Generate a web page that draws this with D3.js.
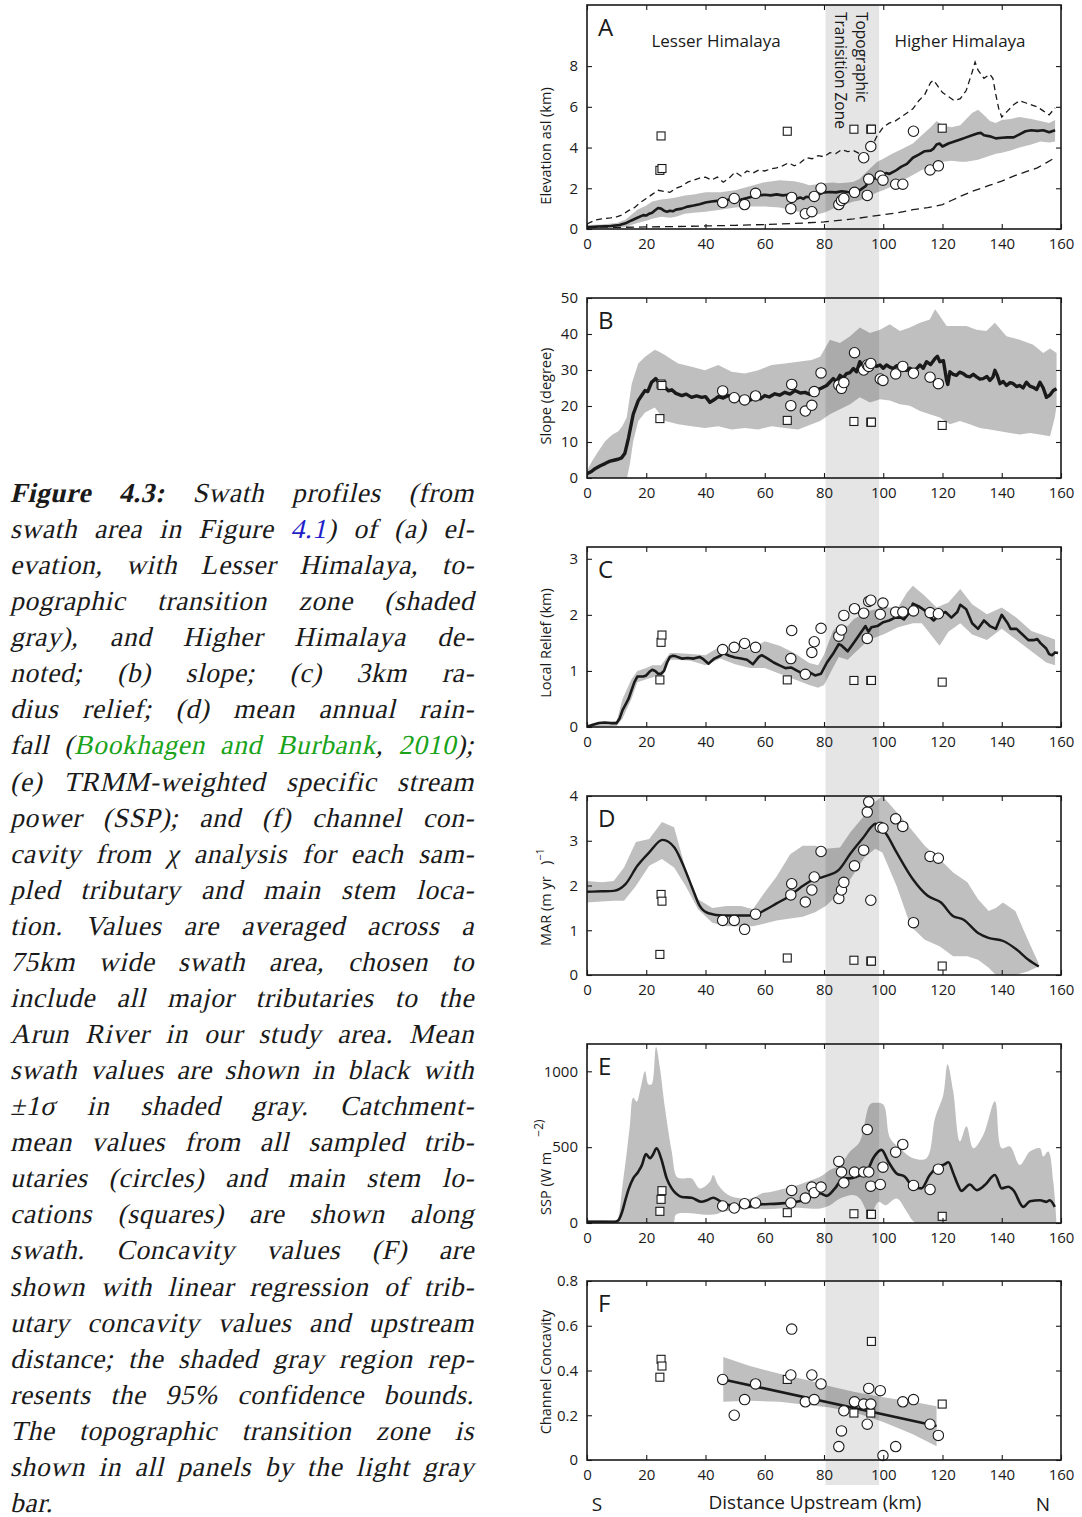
<!DOCTYPE html>
<html>
<head>
<meta charset="utf-8">
<script src="https://cdn.jsdelivr.net/npm/d3@7"></script>
<style>
  body { margin: 0; background: #fff; }
</style>
</head>
<body>
<div id="fig"></div>
<script>
// distancia (km) y valores

const X_TICKS = [0, 20, 40, 60, 80, 100, 120, 140, 160];
const ZONE_KM = [80.5, 98.6];

// tributarios (circulos) y cauce principal (cuadrados)
const tribKm = [45.8, 49.7, 53.2, 56.9, 68.8, 69.1, 73.7, 75.9, 76.7, 79.0, 85.0, 85.9, 86.7, 90.3, 93.4, 94.6, 95.1, 95.8, 99.0, 99.9, 104.2, 106.6, 110.2, 115.8, 118.6];
const stemKm = [24.6, 25.0, 25.3, 67.6, 90.1, 95.8, 96.0, 119.9];

// A - elevacion
const elevMean = [[0,0.08],[4,0.12],[8,0.15],[11,0.2],[13,0.28],[15,0.42],[17,0.55],[19,0.68],[20,0.66],[21,0.75],[22,0.8],[23,0.92],[24,1.03],[25,1.0],[26,0.9],[27,0.85],[28,0.9],[29,0.87],[30,0.95],[32,1.0],[34,1.1],[36,1.15],[38,1.22],[40,1.3],[42,1.35],[44,1.38],[46,1.38],[48,1.45],[50,1.42],[52,1.45],[54,1.52],[56,1.6],[57,1.7],[58,1.65],[60,1.68],[62,1.65],[64,1.7],[66,1.65],[68,1.68],[70,1.62],[71,1.5],[72,1.55],[73,1.48],[74,1.58],[76,1.55],[78,1.68],[80,1.8],[82,1.82],[84,1.8],[86,1.85],[88,1.82],[90,1.8],[91,1.75],[92,1.9],[94,2.1],[95,2.3],[96,2.45],[98,2.5],[99,2.7],[100,2.65],[101,2.75],[102,2.7],[104,2.85],[106,3.05],[108,3.2],[110,3.5],[112,3.65],[114,3.82],[116,3.85],[117,3.95],[118,4.15],[119,4.2],[120,4.05],[122,4.2],[124,4.3],[126,4.4],[128,4.5],[130,4.6],[132,4.7],[133,4.72],[134,4.6],[136,4.55],[138,4.45],[140,4.48],[142,4.5],[144,4.5],[146,4.65],[148,4.8],[150,4.85],[152,4.82],[154,4.85],[156,4.75],[158,4.85]];
const elevHi = [[0,0.2],[5,0.22],[10,0.3],[13,0.45],[15,0.7],[17,0.95],[20,1.15],[22,1.35],[25,1.45],[28,1.5],[30,1.55],[33,1.65],[36,1.7],[40,1.8],[45,1.8],[50,1.9],[55,2.1],[60,2.3],[65,2.4],[70,2.35],[73,2.25],[75,2.15],[78,2.2],[80,2.25],[83,2.28],[85,2.25],[88,2.28],[90,2.32],[92,2.45],[95,2.9],[98,3.3],[100,3.45],[103,3.7],[106,3.9],[110,4.2],[113,4.6],[116,5.0],[118,5.3],[120,5.1],[123,5.0],[126,5.1],[128,5.4],[130,5.7],[132,5.85],[134,5.6],[136,5.3],[138,5.2],[140,5.35],[143,5.4],[146,5.5],[150,5.4],[153,5.3],[156,5.2],[158,5.35]];
const elevLo = [[0,0.0],[5,0.02],[10,0.05],[13,0.1],[15,0.2],[17,0.3],[20,0.4],[22,0.5],[25,0.6],[28,0.55],[30,0.6],[33,0.75],[36,0.8],[40,0.85],[45,0.95],[50,1.05],[55,1.1],[60,1.1],[65,1.05],[70,0.9],[73,0.8],[75,0.72],[78,0.72],[80,0.8],[83,1.0],[85,1.1],[88,1.25],[90,1.35],[92,1.4],[95,1.6],[98,1.8],[100,1.9],[103,2.1],[106,2.35],[110,2.65],[113,2.9],[116,3.05],[118,3.2],[120,3.3],[123,3.35],[126,3.3],[128,3.3],[130,3.35],[132,3.4],[134,3.5],[136,3.6],[138,3.7],[140,3.75],[143,3.85],[146,4.0],[150,4.15],[153,4.3],[156,4.25],[158,4.3]];
const elevMax = [[0,0.25],[3,0.45],[5,0.5],[8,0.55],[10,0.6],[12,0.7],[14,0.9],[16,1.05],[18,1.3],[20,1.5],[22,1.7],[24,1.9],[26,1.85],[28,1.8],[30,2.0],[32,2.1],[34,2.3],[36,2.4],[38,2.5],[40,2.55],[42,2.4],[44,2.55],[46,2.3],[48,2.5],[50,2.8],[52,2.6],[54,2.85],[56,2.75],[58,2.9],[60,2.85],[62,2.95],[64,3.0],[66,3.1],[68,3.25],[70,3.1],[72,3.25],[74,3.5],[76,3.45],[78,3.6],[80,3.55],[82,3.75],[84,3.7],[86,3.9],[88,3.8],[90,3.85],[92,3.7],[94,3.6],[96,4.0],[98,4.6],[100,5.0],[102,5.2],[104,5.3],[106,5.5],[108,5.7],[110,5.9],[112,6.3],[114,6.6],[116,7.2],[117,7.3],[118,7.1],[120,6.7],[122,6.5],[124,6.3],[126,6.4],[128,6.8],[130,7.7],[131,8.2],[132,7.8],[134,7.4],[136,7.6],[137,7.4],[138,6.6],[139,5.9],[140,5.5],[142,5.8],[144,6.1],[146,6.3],[148,6.2],[150,6.1],[152,6.0],[154,5.8],[156,5.6],[158,5.95]];
const elevMin = [[0,0.12],[10,0.08],[20,0.1],[30,0.12],[40,0.15],[50,0.18],[60,0.22],[70,0.27],[80,0.35],[85,0.42],[90,0.5],[95,0.6],[100,0.7],[105,0.8],[110,0.95],[115,1.05],[120,1.2],[123,1.4],[126,1.6],[130,1.85],[133,2.0],[136,2.15],[140,2.35],[144,2.6],[148,2.8],[152,3.0],[155,3.25],[158,3.5]];
const elevTrib = [1.3, 1.5, 1.2, 1.75, 1.0, 1.55, 0.75, 0.85, 1.6, 2.0, 1.2, 1.4, 1.5, 1.8, 3.5, 1.65, 2.45, 4.05, 2.6, 2.4, 2.2, 2.2, 4.8, 2.9, 3.1];
const elevStem = [2.88, 4.57, 2.97, 4.8, 4.9, 4.9, 4.9, 4.95];

// B - pendiente
const slopeMean = [[0,1.2],[1.5,1.8],[2.7,2.6],[4.5,3.4],[6.1,4.0],[7.5,4.6],[9.4,5.0],[10.5,5.2],[11.7,5.6],[12.8,6.9],[14,11.1],[15.6,17.7],[17.3,21.5],[18.5,23],[19.6,24.3],[20.5,24],[21.8,26.6],[23.2,27.6],[24,26.8],[24.6,26.2],[25.5,25],[26.3,25.2],[27.5,24.2],[28.6,24.5],[30,23.5],[32,22.9],[33.5,23.3],[35.3,22.4],[37,22.8],[38.7,22.4],[40,22.6],[41.5,21],[43,21.8],[44.3,22.6],[46,22.2],[47.7,22.9],[49.5,22.4],[51.1,21.9],[53.3,21],[55,21.6],[56.7,22.4],[58.5,22],[60,22.9],[61.5,22.5],[63.4,23.4],[65,23],[66.8,23.8],[68.5,23.3],[70.2,24.3],[72,23.6],[73.6,23.8],[75.3,23.2],[77,24.3],[78.7,24.8],[80.9,25.7],[83.1,27.6],[84.2,26.8],[85.4,28.5],[86.5,27.8],[87.6,29],[88.8,29.3],[89.9,30.4],[91,29.5],[92.1,32.3],[93.2,31],[94.4,31.4],[95.5,30.8],[96.6,31.8],[97.7,31],[98.9,31.4],[100,30.5],[101.1,31.4],[102.2,30.8],[103.4,30.4],[104.5,31.2],[105.6,30.9],[106.8,30.2],[107.9,29.9],[109,30.5],[110.1,29.9],[111.2,30.3],[112.4,31.4],[113.5,30.5],[114.6,32.3],[116,31.5],[117.5,33.2],[118.3,33.8],[119.1,32.3],[120.3,32.6],[121.4,27.1],[121.8,26],[122.5,29.5],[123.6,28.8],[124.7,28.5],[125.8,29.4],[127,29],[128.1,28.3],[129.2,28.1],[130.4,28.8],[131.5,28.1],[132.6,27.5],[133.7,27.6],[135,28.2],[136,27.1],[137,28],[137.7,29.9],[138.5,28.5],[139.4,26.2],[140.5,26.8],[141.6,25.7],[142.8,26.5],[143.9,26.2],[145,25.4],[146.1,25.7],[147.2,25],[148.3,26.6],[149.5,25.5],[150.6,25.2],[151.8,24.6],[152.9,26.6],[154,25],[155.1,22.4],[156.2,23],[157.4,24.3],[158.5,24.8]];
const slopeHi = [[0,2],[1.6,4.5],[3.5,7],[6.1,10.2],[8.5,12],[10.6,13],[12,14.5],[13.4,16.8],[15.1,26.2],[17.3,31.8],[19.6,33.7],[22.9,35.6],[24.5,35],[26.3,34.2],[28.5,33],[30.8,31.8],[35.3,30.9],[39.8,29.9],[44.3,31.4],[48.8,29.5],[53.3,29],[57.8,29.9],[62.3,31.4],[66.8,31.8],[71.3,32.3],[75.8,32.8],[78.7,33.7],[82,38.4],[85.4,37.5],[88.8,39.4],[92.1,41.8],[95.5,40.3],[98.9,41.2],[102.2,42.7],[105.6,40.8],[109,41.8],[112.4,43.1],[115.7,44],[117.5,46.9],[119.1,45],[121.4,42.2],[124.7,42.2],[128.1,42.2],[131.5,41.2],[134.8,40.8],[137.7,43.1],[141.6,39.4],[146.1,38.4],[150.6,37],[154,34.7],[156.3,36],[158.5,34.7]];
const slopeLo = [[0,0],[13.5,0],[14.5,4],[15.6,10.2],[17.3,15.8],[19.6,18.2],[22.9,19.6],[26.3,15.8],[30.8,14.9],[35.3,14.4],[39.8,13.9],[44.3,14.4],[48.8,13.5],[53.3,13.9],[57.8,13.5],[62.3,14.4],[66.8,13.9],[71.3,13.5],[75.8,14.9],[78.7,15.8],[82,17.7],[85.4,19.1],[88.8,20.5],[92.1,22.4],[95.5,21],[98.9,21.9],[102.2,21.5],[105.6,20.5],[109,20.1],[112.4,18.6],[115.7,17.7],[119.1,16.8],[122.5,14.9],[125.9,15.8],[129.2,14.9],[132.6,13.9],[136,13.5],[139.4,13],[142.8,12.5],[146.1,12.1],[149.5,12.5],[152.9,12.1],[156.3,11.6],[157.9,16.8],[158.5,20]];
const slopeTrib = [24.2, 22.3, 21.7, 22.8, 20.1, 26.0, 18.6, 20.2, 24.0, 29.2, 25.8, 24.9, 26.5, 34.8, 30.0, 31.4, 31.0, 31.8, 27.5, 27.1, 28.9, 31.0, 29.1, 28.0, 26.2];
const slopeStem = [16.5, 26.1, 25.7, 16.0, 15.7, 15.5, 15.5, 14.6];

// C - relieve local
const reliefMean = [[0,0],[2,0.04],[4,0.07],[6,0.08],[8,0.07],[10,0.07],[11,0.15],[12,0.3],[13,0.4],[14,0.5],[15,0.65],[16,0.8],[17,0.9],[19,0.9],[20,0.92],[21,0.98],[22,1.02],[23,1.0],[24,0.95],[25,0.95],[26,1.0],[27,1.15],[28,1.25],[29,1.27],[30,1.26],[32,1.22],[34,1.23],[36,1.22],[38,1.25],[39,1.22],[41,1.13],[43,1.22],[45,1.27],[46,1.32],[48,1.27],[50,1.24],[52,1.22],[54,1.2],[56,1.12],[58,1.25],[59,1.28],[61,1.22],[63,1.15],[65,1.1],[67,1.05],[69,1.06],[71,1.0],[73,0.95],[75,0.98],[77,0.92],[79,0.95],[81,1.15],[83,1.3],[85,1.48],[86,1.45],[88,1.35],[90,1.5],[92,1.65],[94,1.8],[95,1.7],[96,1.78],[98,1.8],[100,1.87],[102,1.9],[104,1.95],[106,1.95],[107,1.92],[109,2.05],[110,2.2],[112,2.15],[114,2.08],[116,1.95],[117,1.9],[119,2.0],[121,2.05],[123,1.95],[125,2.05],[126,2.18],[128,2.1],[130,1.85],[132,1.75],[134,1.9],[136,1.8],[138,1.75],[140,2.0],[142,1.85],[143,1.75],[145,1.75],[147,1.65],[149,1.55],[151,1.55],[152,1.57],[153,1.5],[155,1.4],[156,1.3],[157,1.28],[158,1.33],[159,1.32]];
const reliefHi = [[0,0.05],[10,0.1],[12,0.5],[15,0.85],[17,1.0],[20,1.05],[22,1.1],[25,1.1],[28,1.32],[30,1.32],[35,1.3],[40,1.28],[45,1.44],[50,1.38],[55,1.38],[60,1.53],[65,1.45],[70,1.32],[75,1.14],[78,1.1],[80,1.29],[83,1.71],[85,1.83],[88,1.8],[90,1.92],[95,2.07],[100,2.13],[105,2.13],[108,2.4],[110,2.52],[114,2.34],[118,2.13],[122,2.22],[126,2.46],[130,2.19],[135,2.01],[140,2.13],[145,1.95],[150,1.71],[155,1.62],[158,1.56]];
const reliefLo = [[0,0],[10,0.02],[12,0.15],[15,0.5],[17,0.8],[20,0.85],[23,0.9],[25,0.85],[28,1.2],[30,1.2],[35,1.18],[40,1.1],[45,1.22],[50,1.12],[55,1.05],[60,1.05],[65,0.95],[70,0.85],[75,0.75],[78,0.7],[80,0.75],[83,1.05],[85,1.25],[88,1.2],[90,1.3],[95,1.55],[100,1.65],[105,1.78],[110,1.85],[113,1.85],[116,1.65],[119,1.45],[122,1.7],[126,1.85],[130,1.65],[135,1.55],[140,1.75],[145,1.55],[150,1.35],[155,1.15],[158,1.1]];
const reliefTrib = [1.38, 1.42, 1.49, 1.42, 1.22, 1.72, 0.94, 1.33, 1.52, 1.76, 1.62, 1.73, 1.99, 2.11, 2.03, 1.58, 2.24, 2.26, 2.01, 2.21, 2.05, 2.05, 2.07, 2.04, 2.02];
const reliefStem = [0.84, 1.51, 1.64, 0.84, 0.83, 0.83, 0.83, 0.80];

// D - lluvia media anual
const rainMean = [[0,1.86],[5,1.87],[9,1.88],[13,2.03],[17,2.44],[21,2.74],[25.5,3.02],[29.5,2.85],[33,2.37],[35.5,1.95],[38,1.55],[41,1.38],[46,1.33],[50,1.33],[56,1.33],[60,1.45],[64,1.6],[68,1.75],[72,1.95],[76,2.12],[80,2.2],[85,2.35],[89,2.72],[93,3.05],[97.5,3.38],[99,3.3],[101,3.15],[104.5,2.74],[110,2.14],[115,1.77],[119.5,1.62],[123.5,1.32],[127,1.24],[132,0.94],[135.5,0.83],[140.5,0.76],[145,0.57],[149,0.34],[152.5,0.19]];
const rainHi = [[0,2.1],[5,2.07],[9,2.1],[12.5,2.4],[16.5,2.97],[21,3.04],[25.3,3.42],[29.4,3.3],[33.3,2.37],[37.5,1.69],[42.3,1.5],[47,1.54],[52,1.54],[56,1.47],[60,1.85],[64,2.2],[68.6,2.7],[72.8,2.89],[77,2.89],[80.6,2.82],[85.4,2.85],[88.9,3.19],[93.7,3.57],[97.3,3.87],[99.7,4.0],[104.5,3.64],[109.3,3.27],[114,2.89],[119,2.59],[123.6,2.29],[128.4,2.07],[132,1.69],[135.6,1.43],[138,1.5],[140.4,1.62],[144.6,1.43],[148.8,0.79],[152.4,0.27]];
const rainLo = [[0,1.62],[5,1.64],[9,1.66],[12.5,1.66],[16.5,1.99],[21,2.44],[25.3,2.59],[29.4,2.4],[33.3,1.99],[37.5,1.47],[42.3,1.17],[47,1.09],[52,1.09],[56,1.09],[60,1.15],[64,1.22],[68.6,1.26],[72.8,1.3],[77,1.4],[80.6,1.54],[85.4,1.84],[88.9,2.14],[93.7,2.63],[97.3,2.82],[99.7,2.74],[104.5,1.99],[109.3,1.09],[114,0.79],[119,0.64],[123.6,0.42],[128.4,0.42],[132,0.34],[135.6,0.16],[138,0],[140.4,0],[144.6,0],[148.8,0.08],[152.4,0.19]];
const rainTrib = [1.22, 1.22, 1.02, 1.36, 1.79, 2.04, 1.63, 1.90, 2.19, 2.76, 1.71, 1.90, 2.07, 2.44, 2.79, 3.64, 3.87, 1.67, 3.30, 3.28, 3.49, 3.32, 1.17, 2.65, 2.61];
const rainStem = [0.46, 1.80, 1.65, 0.38, 0.33, 0.31, 0.31, 0.20];

// E - potencia especifica (SSP)
const sspMean = [[0,8],[5,8],[9.4,8],[10.6,18],[11.8,70],[12.8,140],[14,220],[15.6,294],[17.3,338],[18.5,380],[19.9,454],[21.3,427],[22.2,449],[23.5,493],[25,427],[26.9,294],[28.6,228],[30,195],[32,172],[35.3,166],[38.7,140],[40.5,150],[42.6,166],[46.6,124],[51.1,113],[54,105],[57.8,122],[64.6,128],[69,135],[72,145],[74.7,161],[77,195],[78.7,195],[80.9,179],[83.7,228],[86.5,294],[88.8,294],[91,305],[94.4,338],[96.6,427],[99.4,482],[101.7,405],[104.5,327],[107.3,305],[110.1,239],[112.9,228],[115.7,316],[118.5,372],[120.5,385],[122,400],[123.6,330],[125,260],[126.4,212],[129.2,254],[131.5,217],[134.3,250],[137.7,316],[140,228],[142.2,239],[143.9,217],[147.3,106],[149.5,144],[152.9,150],[155.1,139],[156.2,150],[157.9,106]];
const sspHi = [[0,20],[5,20],[10,20],[10.6,40],[12,250],[13.5,480],[14.5,650],[15.6,825],[16.8,800],[17.9,870],[19.6,1000],[20.7,914],[21.8,914],[23.3,1160],[24.6,1024],[26.3,760],[28.6,471],[30.3,305],[32,294],[35.3,294],[38.1,228],[41.5,272],[42.6,316],[44.3,250],[47.7,184],[52.2,161],[55.6,161],[58.9,195],[62.3,206],[66.8,228],[71.3,250],[75.8,283],[78.7,305],[82,350],[85.4,383],[88.8,471],[92.1,538],[95.5,781],[97.2,792],[100,781],[102.3,560],[105.6,493],[110.1,427],[114.6,427],[117.5,692],[120.3,847],[121.7,1046],[123.6,870],[125.9,538],[128.1,637],[130.4,493],[133.8,582],[137.7,803],[140,493],[142.8,504],[146.1,383],[149.5,471],[152.9,493],[154,438],[155.7,471],[157.4,272],[158.5,0]];
const sspLo = [[0,0],[29,0],[30,55],[35,65],[40,55],[44,60],[45,70],[50,85],[55,95],[60,90],[65,95],[70,100],[75,95],[78.7,95],[82,117],[85.4,161],[89.9,184],[92.1,161],[95.5,51],[98.4,139],[100.7,117],[104.6,161],[108,73],[111.2,0],[158.5,0]];
const sspTrib = [112, 99, 127, 132, 132, 215, 164, 237, 200, 237, 406, 336, 265, 336, 336, 616, 336, 243, 254, 368, 467, 518, 248, 221, 355];
const sspStem = [77, 156, 213, 68, 61, 57, 57, 44];

// F - concavidad
const concFit = [[46,0.36],[118,0.152]];
const concHi = [[46,0.46],[55,0.42],[65,0.385],[75,0.355],[82,0.33],[90,0.305],[100,0.28],[110,0.26],[118,0.24]];
const concLo = [[46,0.26],[55,0.265],[65,0.26],[75,0.245],[82,0.235],[90,0.215],[100,0.17],[110,0.115],[118,0.062]];
const concTrib = [0.36, 0.20, 0.27, 0.34, 0.38, 0.585, 0.26, 0.38, 0.27, 0.34, 0.06, 0.13, 0.22, 0.26, 0.25, 0.16, 0.32, 0.25, 0.31, 0.02, 0.06, 0.26, 0.27, 0.16, 0.11];
const concStem = [0.37, 0.45, 0.42, 0.36, 0.21, 0.21, 0.53, 0.25];

// Leyenda de la figura (lineas tal como aparecen)
const captionLines = [
  [[["Figure", "b"]], [["4.3:", "b"]], "Swath", "profiles", "(from"],
  ["swath", "area", "in", "Figure", [["4.1", "blue"], [")", ""]], "of", "(a)", "el-"],
  ["evation,", "with", "Lesser", "Himalaya,", "to-"],
  ["pographic", "transition", "zone", "(shaded"],
  ["gray),", "and", "Higher", "Himalaya", "de-"],
  ["noted;", "(b)", "slope;", "(c)", "3km", "ra-"],
  ["dius", "relief;", "(d)", "mean", "annual", "rain-"],
  ["fall", [["(", ""], ["Bookhagen", "green"]], [["and", "green"]], [["Burbank", "green"], [",", ""]], [["2010", "green"], [");", ""]]],
  ["(e)", "TRMM-weighted", "specific", "stream"],
  ["power", "(SSP);", "and", "(f)", "channel", "con-"],
  ["cavity", "from", "χ", "analysis", "for", "each", "sam-"],
  ["pled", "tributary", "and", "main", "stem", "loca-"],
  ["tion.", "Values", "are", "averaged", "across", "a"],
  ["75km", "wide", "swath", "area,", "chosen", "to"],
  ["include", "all", "major", "tributaries", "to", "the"],
  ["Arun", "River", "in", "our", "study", "area.", "Mean"],
  ["swath", "values", "are", "shown", "in", "black", "with"],
  ["±1σ", "in", "shaded", "gray.", "Catchment-"],
  ["mean", "values", "from", "all", "sampled", "trib-"],
  ["utaries", "(circles)", "and", "main", "stem", "lo-"],
  ["cations", "(squares)", "are", "shown", "along"],
  ["swath.", "Concavity", "values", "(F)", "are"],
  ["shown", "with", "linear", "regression", "of", "trib-"],
  ["utary", "concavity", "values", "and", "upstream"],
  ["distance;", "the", "shaded", "gray", "region", "rep-"],
  ["resents", "the", "95%", "confidence", "bounds."],
  ["The", "topographic", "transition", "zone", "is"],
  ["shown", "in", "all", "panels", "by", "the", "light", "gray"],
  ["bar."]
];

// ---- layout ----
const WIDTH = 1082, HEIGHT = 1517;
const X0 = 587, X1 = 1061;
const SWATH_GRAY = "#bfbfbf";
const INK = "#1a1a1a";
const SANS = "'Open Sans', 'Noto Sans', sans-serif";
const SERIF = "'Liberation Serif', serif";

const panels = [
  { key: "A", top: 5, bottom: 229, ymax: 11, ticks: [0, 2, 4, 6, 8], hi: elevHi, lo: elevLo, mean: elevMean, trib: elevTrib, stem: elevStem, width: 2.6 },
  { key: "B", top: 298, bottom: 478, ymax: 50, ticks: [0, 10, 20, 30, 40, 50], hi: slopeHi, lo: slopeLo, mean: slopeMean, trib: slopeTrib, stem: slopeStem, width: 3.4 },
  { key: "C", top: 547, bottom: 727, ymax: 3.21, ticks: [0, 1, 2, 3], hi: reliefHi, lo: reliefLo, mean: reliefMean, trib: reliefTrib, stem: reliefStem, width: 2.6 },
  { key: "D", top: 796, bottom: 975, ymax: 4, ticks: [0, 1, 2, 3, 4], hi: rainHi, lo: rainLo, mean: rainMean, trib: rainTrib, stem: rainStem, width: 2.4 },
  { key: "E", top: 1044, bottom: 1223, ymax: 1180, ticks: [0, 500, 1000], hi: sspHi, lo: sspLo, mean: sspMean, trib: sspTrib, stem: sspStem, width: 2.6 },
  { key: "F", top: 1281, bottom: 1460, ymax: 0.8, ticks: [0, 0.2, 0.4, 0.6, 0.8], hi: concHi, lo: concLo, mean: concFit, trib: concTrib, stem: concStem, width: 2.6 }
];

const svg = d3.select("#fig").append("svg")
  .attr("width", WIDTH)
  .attr("height", HEIGHT);

const defs = svg.append("defs");
const gSwath = svg.append("g");
const gZone = svg.append("g");
const gMarks = svg.append("g");
const gAxes = svg.append("g").attr("font-family", SANS);

const x = d3.scaleLinear().domain([0, 160]).range([X0, X1]);

panels.forEach(p => {
  const y = d3.scaleLinear().domain([0, p.ymax]).range([p.bottom, p.top]);
  const clipId = "clip-" + p.key;
  defs.append("clipPath").attr("id", clipId)
    .append("rect")
    .attr("x", X0).attr("y", p.top)
    .attr("width", X1 - X0).attr("height", p.bottom - p.top);

  const line = d3.line().x(d => x(d[0])).y(d => y(d[1]));

  // banda +-1 sigma (o intervalo 95% en F); la de E es suave
  let bandPath;
  if (p.key === "E") {
    const smooth = d3.line().x(d => x(d[0])).y(d => y(d[1])).curve(d3.curveCatmullRom.alpha(0.5));
    bandPath = smooth(p.hi) + smooth(p.lo.slice().reverse()).replace(/^M/, "L") + "Z";
  } else {
    bandPath = line(p.hi.concat(p.lo.slice().reverse())) + "Z";
  }
  gSwath.append("path")
    .attr("clip-path", `url(#${clipId})`)
    .attr("d", bandPath)
    .attr("fill", SWATH_GRAY);

  const marks = gMarks.append("g");

  if (p.key === "A") {
    marks.append("path").attr("clip-path", `url(#${clipId})`)
      .attr("d", line(elevMax)).attr("fill", "none")
      .attr("stroke", INK).attr("stroke-width", 1.3).attr("stroke-dasharray", "6,4");
    marks.append("path").attr("clip-path", `url(#${clipId})`)
      .attr("d", line(elevMin)).attr("fill", "none")
      .attr("stroke", INK).attr("stroke-width", 1.3).attr("stroke-dasharray", "8,5");
  }

  const meanCurve = (p.key === "D" || p.key === "E") ? d3.curveMonotoneX : d3.curveLinear;
  marks.append("path").attr("clip-path", `url(#${clipId})`)
    .attr("d", line.curve(meanCurve)(p.mean))
    .attr("fill", "none").attr("stroke", INK)
    .attr("stroke-width", p.width).attr("stroke-linejoin", "round");

  // cauce principal (cuadrados)
  marks.selectAll("rect.stem")
    .data(stemKm.map((k, i) => [k, p.stem[i]]))
    .join("rect")
    .attr("class", "stem")
    .attr("x", d => x(d[0]) - 4).attr("y", d => y(d[1]) - 4)
    .attr("width", 8).attr("height", 8)
    .attr("fill", "#fff").attr("stroke", INK).attr("stroke-width", 1.1);

  // tributarios (circulos)
  marks.selectAll("circle.trib")
    .data(tribKm.map((k, i) => [k, p.trib[i]]))
    .join("circle")
    .attr("class", "trib")
    .attr("cx", d => x(d[0])).attr("cy", d => y(d[1]))
    .attr("r", 5.2)
    .attr("fill", "#fff").attr("stroke", INK).attr("stroke-width", 1.1);

  // ejes con ticks hacia adentro en los 4 lados
  const fmt = d => String(d);
  const axB = gAxes.append("g").attr("transform", `translate(0,${p.bottom})`)
    .call(d3.axisBottom(x).tickValues(X_TICKS).tickSize(-5).tickPadding(9).tickFormat(fmt));
  const axT = gAxes.append("g").attr("transform", `translate(0,${p.top})`)
    .call(d3.axisTop(x).tickValues(X_TICKS).tickSize(-5).tickFormat(""));
  const axL = gAxes.append("g").attr("transform", `translate(${X0},0)`)
    .call(d3.axisLeft(y).tickValues(p.ticks).tickSize(-5).tickPadding(9).tickFormat(fmt));
  const axR = gAxes.append("g").attr("transform", `translate(${X1},0)`)
    .call(d3.axisRight(y).tickValues(p.ticks).tickSize(-5).tickFormat(""));
  [axB, axT, axL, axR].forEach(a => {
    a.select(".domain").remove();
    a.attr("font-size", 15).attr("font-family", SANS);
    a.selectAll("line").attr("stroke", INK).attr("stroke-width", 1.1);
    a.selectAll("text").attr("fill", INK);
  });

  gAxes.append("rect")
    .attr("x", X0).attr("y", p.top)
    .attr("width", X1 - X0).attr("height", p.bottom - p.top)
    .attr("fill", "none").attr("stroke", INK).attr("stroke-width", 1.6);

  gAxes.append("text")
    .attr("x", 598).attr("y", p.top + 31)
    .attr("font-size", 24).attr("fill", INK)
    .text(p.key);
});

// zona de transicion topografica (barra gris clara, atraviesa todos los paneles)
gZone.append("rect")
  .attr("x", x(ZONE_KM[0])).attr("y", 5)
  .attr("width", x(ZONE_KM[1]) - x(ZONE_KM[0]))
  .attr("height", 1485 - 5)
  .attr("fill", "#000").attr("fill-opacity", 0.1);

// textos del panel A
gAxes.append("text").attr("x", 716).attr("y", 47).attr("text-anchor", "middle")
  .attr("font-size", 17).attr("fill", INK).text("Lesser Himalaya");
gAxes.append("text").attr("x", 960).attr("y", 47).attr("text-anchor", "middle")
  .attr("font-size", 17).attr("fill", INK).text("Higher Himalaya");
gAxes.append("text").attr("transform", "translate(856,12) rotate(90)")
  .attr("font-size", 15.5).attr("fill", INK).text("Topographic");
gAxes.append("text").attr("transform", "translate(835,12) rotate(90)")
  .attr("font-size", 15.5).attr("fill", INK).text("Tranisition Zone");

// etiquetas de los ejes y
const yLabel = (cy, anchor) => gAxes.append("text")
  .attr("transform", `translate(551,${cy}) rotate(-90)`)
  .attr("text-anchor", anchor)
  .attr("font-size", 14.5).attr("fill", INK)
  .style("white-space", "pre");

yLabel(146, "middle").text("Elevation asl (km)");
yLabel(396, "middle").text("Slope (degree)");
yLabel(643, "middle").text("Local Relief (km)");
const mar = yLabel(946, "start");
mar.append("tspan").text("MAR (m yr   )");
mar.append("tspan").attr("dy", -7).attr("font-size", 11).text("−1");
const ssp = yLabel(1215, "start");
ssp.append("tspan").text("SSP (W m    ");
ssp.append("tspan").attr("dy", -8).attr("font-size", 12).text("−2)");
yLabel(1372, "middle").text("Channel Concavity");

// eje x comun
gAxes.append("text").attr("x", 597).attr("y", 1511).attr("text-anchor", "middle")
  .attr("font-size", 19).attr("fill", INK).text("S");
gAxes.append("text").attr("x", 815).attr("y", 1509).attr("text-anchor", "middle")
  .attr("font-size", 19).attr("fill", INK).text("Distance Upstream (km)");
gAxes.append("text").attr("x", 1043).attr("y", 1511).attr("text-anchor", "middle")
  .attr("font-size", 19).attr("fill", INK).text("N");

// leyenda justificada: no hay serif cursiva instalada, se inclina la regular
const capG = svg.append("g")
  .attr("font-family", SERIF)
  .attr("font-size", 27.5)
  .attr("letter-spacing", 0.6)
  .attr("fill", INK);

const CAP_LEFT = 10, CAP_RIGHT = 474, SLANT = -13;
captionLines.forEach((words, i) => {
  const yb = 502 + i * 36.07;
  const nodes = words.map(w => {
    const t = capG.append("text").attr("font-family", SERIF);
    const segs = typeof w === "string" ? [[w, ""]] : w;
    segs.forEach(([s, st]) => {
      const ts = t.append("tspan").text(s);
      if (st === "b") ts.attr("font-weight", "bold");
      if (st === "blue") ts.attr("fill", "#1f1fc8");
      if (st === "green") ts.attr("fill", "#1aa31a");
    });
    return t;
  });
  const widths = nodes.map(n => n.node().getComputedTextLength());
  const total = d3.sum(widths);
  const isLast = i === captionLines.length - 1;
  const gap = (isLast || words.length < 2) ? 7 : (CAP_RIGHT - CAP_LEFT - total) / (words.length - 1);
  let xx = CAP_LEFT;
  nodes.forEach((n, j) => {
    n.attr("transform", `translate(${xx.toFixed(2)},${yb.toFixed(2)}) skewX(${SLANT})`);
    xx += widths[j] + gap;
  });
});
</script>
</body>
</html>
